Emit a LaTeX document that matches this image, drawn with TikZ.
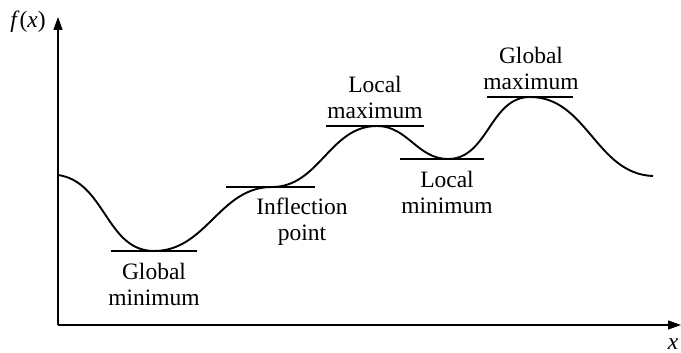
\documentclass[tikz,border=0pt]{standalone}
\usepackage{fontspec}
\setmainfont{Liberation Serif}
\usetikzlibrary{arrows.meta}

\tikzset{
  axis/.style={line width=1.2pt, -{Triangle[length=13pt,width=9pt]}},
  tangent/.style={line width=1.9pt},
  lbl/.style={align=center, font=\fontsize{23.5}{26}\selectfont, inner sep=0pt}
}

\begin{document}
\begin{tikzpicture}[x=1pt, y=1pt]
    \useasboundingbox (0,0) rectangle (681,353);

    % Axes
    \coordinate (O) at (58,28);
    \coordinate (ytop) at (58,336);
    \coordinate (xend) at (681,28);
    \draw[axis] (O) -- (ytop);
    \draw[axis] (O) -- (xend);
    \node[lbl] (fx) at (28,331) {\textit{f}(\textit{x})};
    \node[lbl] (xl) at (673,9) {\textit{x}};

    % Key points of the curve
    \coordinate (start) at (58,178);
    \coordinate (gmin) at (154,102);
    \coordinate (infl) at (272,166);
    \coordinate (lmax) at (377,227);
    \coordinate (lmin) at (448,194);
    \coordinate (gmax) at (530,256);
    \coordinate (stop) at (653,177);

    % Function curve
    \draw[line width=1.9pt]
      (start) to[out=-8,in=180] (gmin)
      to[out=0,in=180] (infl)
      to[out=0,in=180] (lmax)
      to[out=0,in=180] (lmin)
      to[out=0,in=180] (gmax)
      to[out=0,in=178] (stop);

    % Horizontal tangents
    \draw[tangent] ([xshift=-43]gmin) -- ([xshift=43]gmin);
    \draw[tangent] ([xshift=-46]infl) -- ([xshift=43]infl);
    \draw[tangent] ([xshift=-51]lmax) -- ([xshift=47]lmax);
    \draw[tangent] ([xshift=-48]lmin) -- ([xshift=36]lmin);
    \draw[tangent] ([xshift=-43]gmax) -- ([xshift=43]gmax);

    % Labels
    \node[lbl] (gminlbl) at (154,69) {Global\\minimum};
    \node[lbl] (infllbl) at (302,131) {Inflection\\point};
    \node[lbl] (lmaxlbl) at (375,256) {Local\\maximum};
    \node[lbl] (lminlbl) at (447,161) {Local\\minimum};
    \node[lbl] (gmaxlbl) at (531,285) {Global\\maximum};
\end{tikzpicture}
\end{document}
